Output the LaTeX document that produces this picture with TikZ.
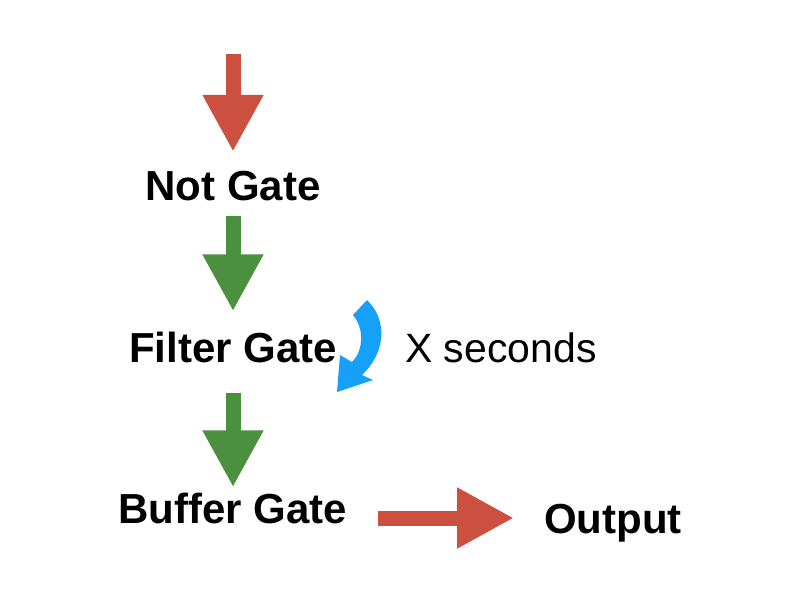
\documentclass[tikz,border=0pt]{standalone}
\usepackage{fontspec}
\setmainfont{Liberation Sans}
\usepackage{tikz}
\usetikzlibrary{arrows.meta,positioning}
\definecolor{arrowred}{RGB}{203,80,64}
\definecolor{arrowgreen}{RGB}{74,144,62}
\definecolor{arrowblue}{RGB}{22,160,250}
\tikzset{
  gate/.style={inner sep=0pt,text height=31pt,text depth=0pt,font=\fontsize{42}{50}\selectfont\bfseries},
  note/.style={inner sep=0pt,text height=30pt,text depth=0pt,font=\fontsize{41}{50}\selectfont},
  blockarrow/.style={line width=15pt,-{Triangle[width=57pt,length=57pt]}},
  redarrow/.style={blockarrow,draw=arrowred,fill=arrowred},
  greenarrow/.style={blockarrow,draw=arrowgreen,fill=arrowgreen}
}
\begin{document}
\begin{tikzpicture}[x=1pt,y=-1pt]
    \useasboundingbox (0,0) rectangle (800,600);
    \node[gate] (notg) at (233,185) {Not Gate};
    \node[gate] (filterg) at (233,347) {Filter Gate};
    \node[gate] (bufferg) at (233,508) {Buffer Gate};
    \node[gate] (out) at (613,518) {Output};
    \node[note] (delay) at (501,347) {X seconds};
    \coordinate (in) at (233,54);

    \draw[redarrow,shorten >=17.5pt] (in) -- (notg.north);
    \draw[greenarrow,shorten <=15pt,shorten >=20pt] (notg) -- (filterg);
    \draw[greenarrow,shorten <=30pt,shorten >=5pt] (filterg) -- (bufferg);
    \draw[redarrow,shorten <=30pt,shorten >=30pt] (out.west -| bufferg.east) -- (out.west);

    \fill[arrowblue] (353,315) .. controls (364,328) and (364,350) .. (352,362)
        -- (340,355) -- (337,392) -- (373,380) -- (362,375)
        .. controls (388,350) and (386,318) .. (367,300) -- cycle;
\end{tikzpicture}
\end{document}
